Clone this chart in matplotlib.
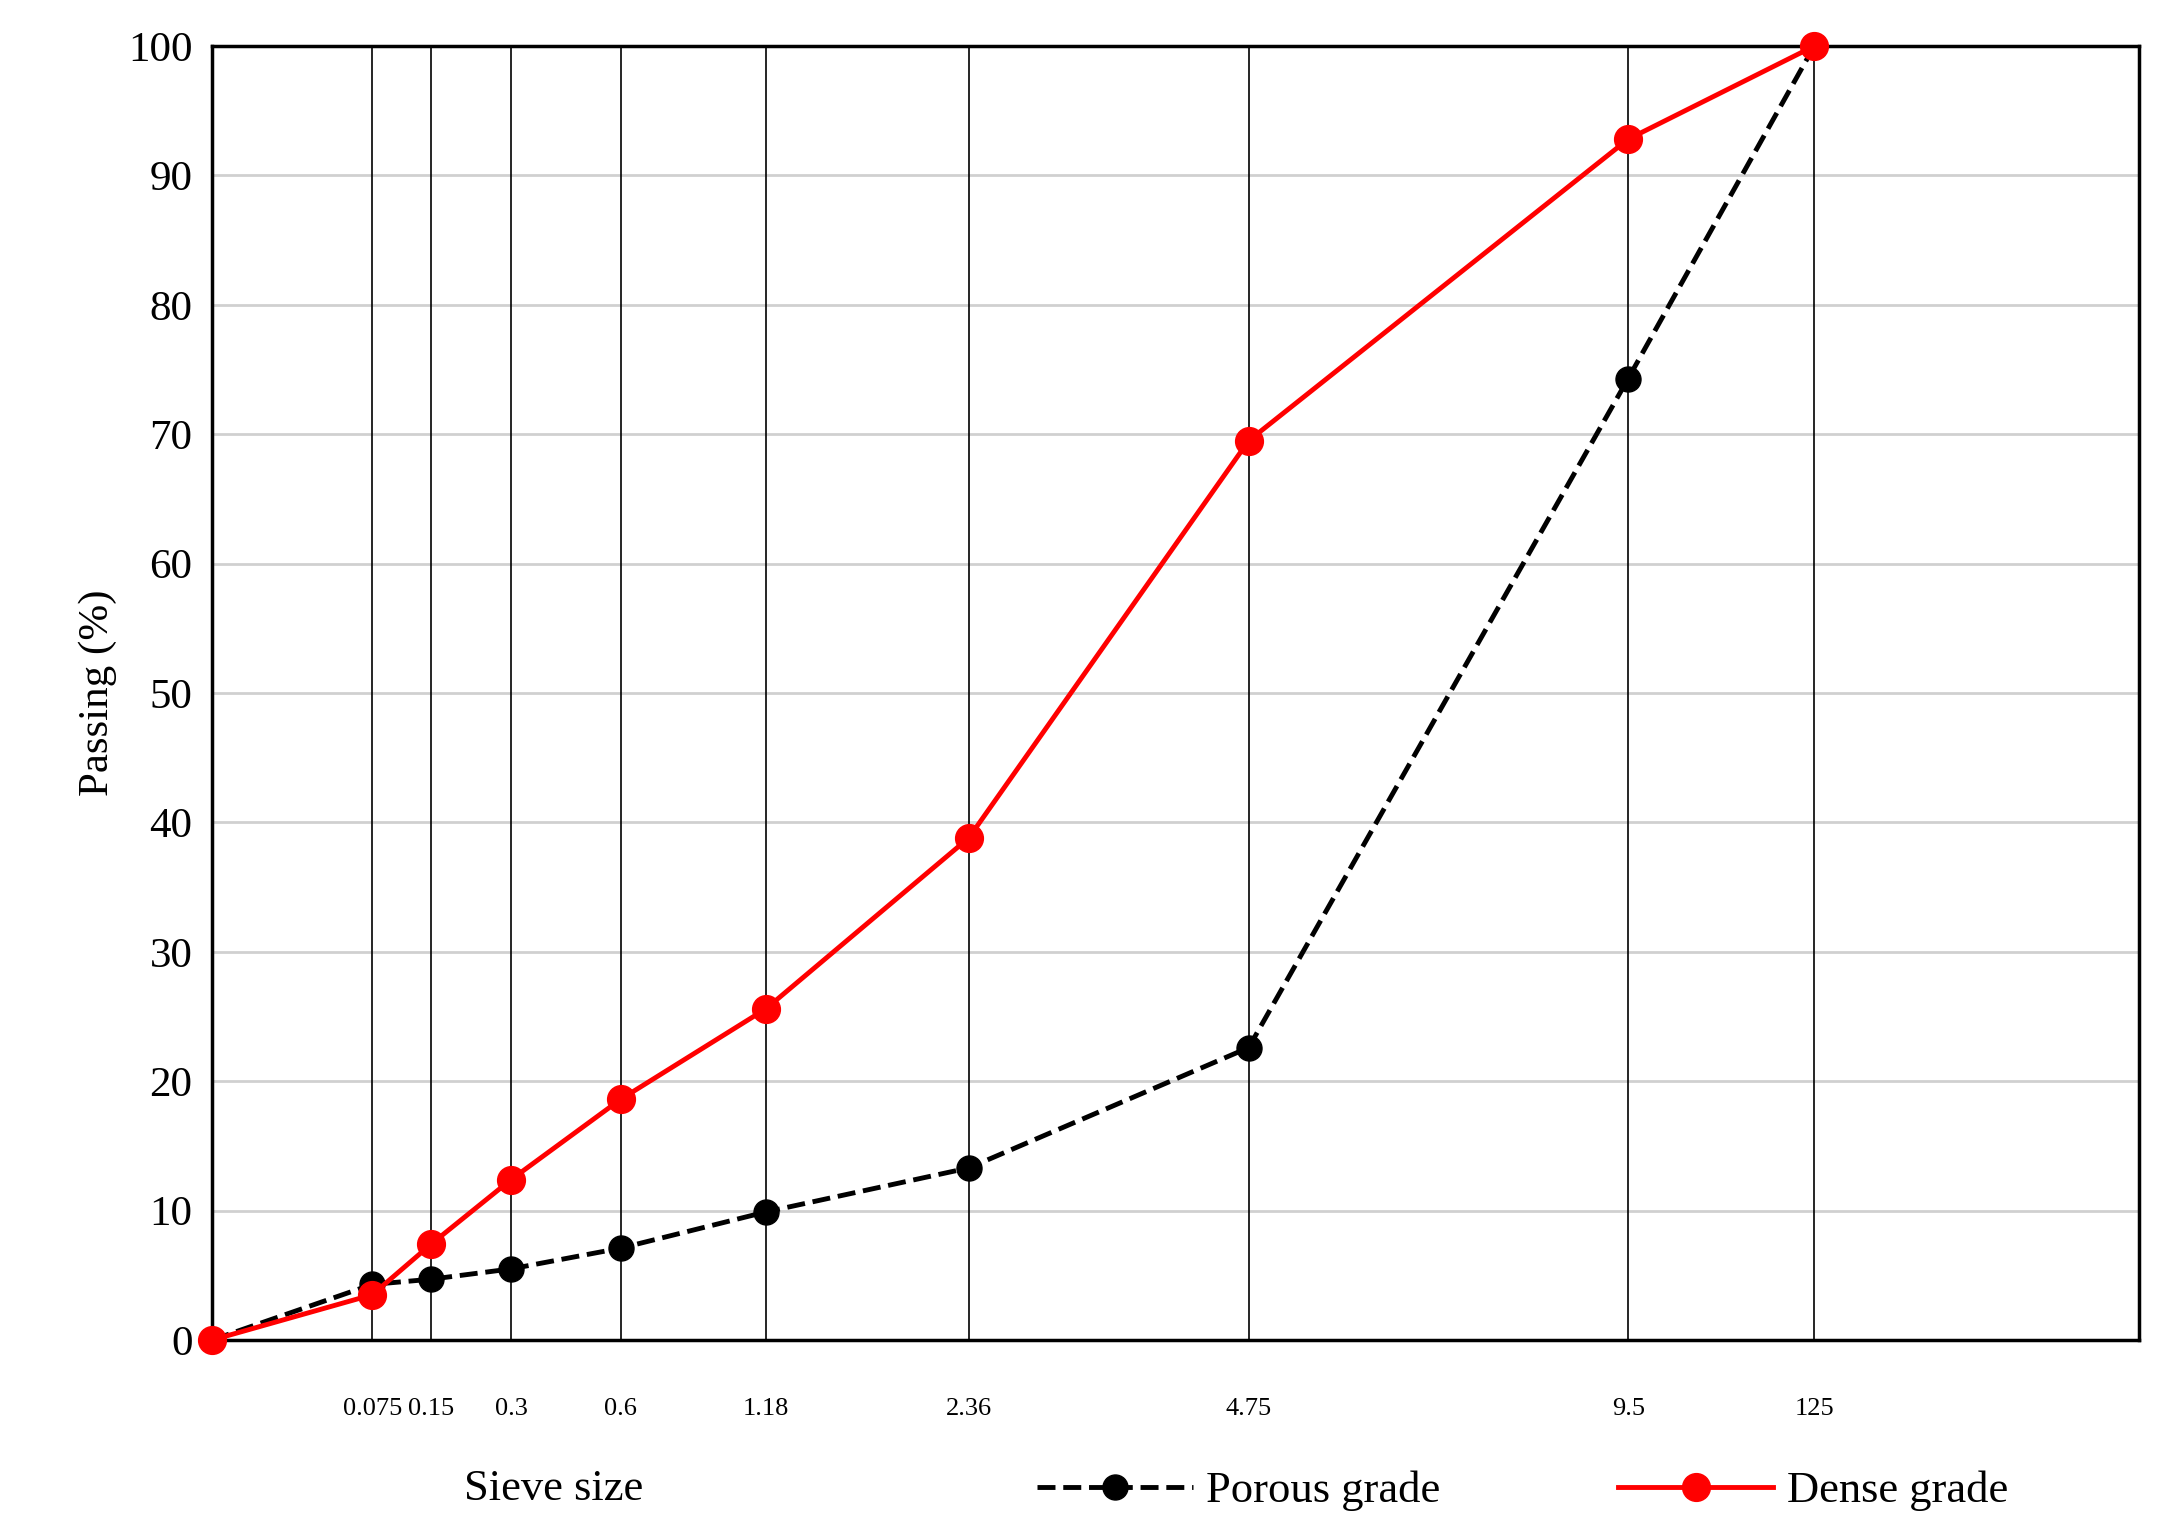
import numpy as np
import matplotlib.pyplot as plt

plt.rcParams['font.family'] = ['Liberation Serif', 'DejaVu Serif']

sieve = [0, 0.075, 0.15, 0.3, 0.6, 1.18, 2.36, 4.75, 9.5, 12.5]
sieve_labels = ['0.075', '0.15', '0.3', '0.6', '1.18', '2.36', '4.75', '9.5', '125']
porous = [0, 4.3, 4.7, 5.5, 7.1, 9.9, 13.3, 22.6, 74.3, 100]
dense = [0, 3.5, 7.4, 12.4, 18.6, 25.6, 38.8, 69.5, 92.8, 100]

xs = np.array(sieve) ** 0.45

fig = plt.figure(figsize=(21.63, 15.35), dpi=100)
ax = fig.add_axes([0.098, 0.127, 0.891, 0.843])

for y in range(10, 100, 10):
    ax.axhline(y, color='#d0d0d0', lw=2, zorder=0)
for x in xs[1:]:
    ax.axvline(x, color='black', lw=1.2, zorder=1)

ax.plot(xs, porous, '--', color='black', lw=3.5, marker='o', ms=18, zorder=3,
        label='Porous grade', clip_on=False)
ax.plot(xs, dense, '-', color='#ff0000', lw=3.5, marker='o', ms=20, zorder=4,
        label='Dense grade', clip_on=False)

ax.set_xlim(0, 3.748)
ax.set_ylim(0, 100)
ax.set_yticks(range(0, 101, 10))
ax.tick_params(axis='y', labelsize=31, length=0, pad=14)
ax.set_xticks([])
for s in ax.spines.values():
    s.set_linewidth(2.5)

for x, lab in zip(xs[1:], sieve_labels):
    ax.text(x, -5.3, lab, ha='center', va='center', fontsize=19)

ax.set_ylabel('Passing (%)', fontsize=31, labelpad=8)
fig.text(0.256, 0.03, 'Sieve size', ha='center', va='center', fontsize=32)

ax.legend(loc='upper center', bbox_to_anchor=(0.68, -0.07), ncol=2, frameon=False,
          fontsize=32, handlelength=3.5, columnspacing=4, handletextpad=0.3)

fig.savefig('out.png', dpi=100)
